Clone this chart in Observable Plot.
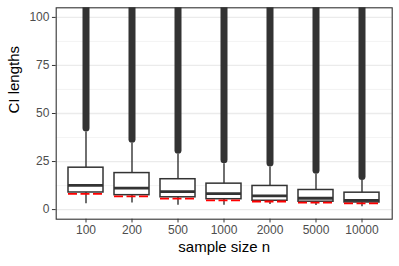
<!DOCTYPE html>
<html>
<head>
<meta charset="utf-8">
<script src="https://cdn.jsdelivr.net/npm/d3@7"></script>
<script src="https://cdn.jsdelivr.net/npm/@observablehq/plot@0.6"></script>
<style>
  html, body { margin: 0; padding: 0; background: #fff; }
  #chart svg { display: block; font-family: "Liberation Sans", Arial, sans-serif; }
</style>
</head>
<body>
<div id="chart"></div>
<script>
const categories  = ["100", "200", "500", "1000", "2000", "5000", "10000"];
const whiskerLow  = [3.1, 3.4, 2.2, 2.2, 2.6, 2.1, 1.5];
const q1          = [8.9, 7.5, 6.4, 5.4, 4.6, 4.1, 3.7];
const median      = [12.6, 11.2, 9.4, 8.3, 7.1, 5.9, 4.8];
const q3          = [21.8, 19.0, 15.8, 13.5, 12.3, 10.2, 8.8];
const whiskerHigh = [40.4, 34.5, 28.8, 23.9, 22.2, 18.4, 15.2];
const outlierMin  = [42.2, 36.3, 30.6, 25.7, 24.0, 20.2, 17.0];
const outlierMax  = [130, 130, 130, 130, 130, 130, 130];
const reference   = [8.2, 6.9, 5.7, 4.8, 4.2, 3.6, 3.2];
const yTicks      = [0, 25, 50, 75, 100];
const yMinor      = [12.5, 37.5, 62.5, 87.5];

const rows = categories.map((c, i) => ({
  n: c, lo: whiskerLow[i], q1: q1[i], med: median[i], q3: q3[i],
  hi: whiskerHigh[i], omin: outlierMin[i], omax: outlierMax[i], ref: reference[i]
}));

const ink = "#333333";

const chart = Plot.plot({
  width: 399,
  height: 266,
  marginLeft: 55.7,
  marginRight: 7.3,
  marginTop: 7.3,
  marginBottom: 47.3,
  style: {fontFamily: "'Liberation Sans', Arial, sans-serif", background: "#fff"},
  x: {domain: categories, paddingInner: 0.25, paddingOuter: 0.225, align: 0.5},
  y: {domain: [-5, 105]},
  marks: [
    Plot.ruleY(yMinor, {stroke: "#f0f0f0", strokeWidth: 0.8}),
    Plot.ruleY(yTicks, {stroke: "#ebebeb", strokeWidth: 1.3}),
    Plot.ruleX(rows, {x: "n", y1: "omin", y2: "omax", stroke: ink, strokeWidth: 7,
      strokeLinecap: "round", clip: true}),
    Plot.ruleX(rows, {x: "n", y1: "lo", y2: "hi", stroke: ink, strokeWidth: 1.4}),
    Plot.barY(rows, {x: "n", y1: "q1", y2: "q3", fill: "white", stroke: ink, strokeWidth: 1.5}),
    Plot.tickY(rows, {x: "n", y: "med", stroke: ink, strokeWidth: 2.8}),
    Plot.tickY(rows, {x: "n", y: "ref", stroke: "#ff0000", strokeWidth: 1.8, strokeDasharray: "9,3.5"}),
    Plot.frame({stroke: ink, strokeWidth: 1.1}),
    Plot.axisY(yTicks, {tickSize: 3.75, tickPadding: 3, fontSize: 12, color: "#4d4d4d",
      stroke: ink, label: null}),
    Plot.axisX({tickSize: 3.75, tickPadding: 3, fontSize: 12, color: "#4d4d4d",
      stroke: ink, label: null}),
    Plot.text(["sample size n"], {frameAnchor: "bottom", dy: 33, fontSize: 15, fill: "#000"}),
    Plot.text(["CI lengths"], {frameAnchor: "left", dx: -42.5, rotate: -90, fontSize: 15, fill: "#000"})
  ]
});
document.getElementById("chart").append(chart);
</script>
</body>
</html>
